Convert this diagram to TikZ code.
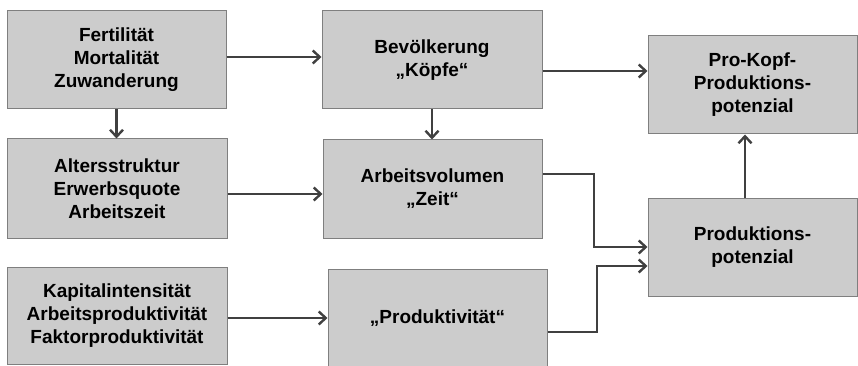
\documentclass[tikz,border=0pt]{standalone}
\usepackage{fontspec}
\setmainfont{Liberation Sans}
\usetikzlibrary{arrows.meta}
\definecolor{boxfill}{HTML}{CCCCCC}
\definecolor{boxline}{HTML}{7F7F7F}
\definecolor{arrowc}{HTML}{404040}
\begin{document}
\begin{tikzpicture}[x=1pt,y=-1pt,
  box/.style={draw=boxline, fill=boxfill, line width=1pt, align=center, inner sep=0pt,
    font=\fontsize{19}{23}\selectfont\bfseries, text=black},
  conn/.style={draw=arrowc, line width=2.4pt, -{Straight Barb[length=7pt,width=13pt,line width=2.4pt]}}]
\useasboundingbox (0,0) rectangle (858,366);
\node[box, minimum width=219pt, minimum height=98pt] (A) at (116.5,60) {Fertilität\\Mortalität\\Zuwanderung};
\node[box, minimum width=220pt, minimum height=99pt] (B) at (117,188.5) {Altersstruktur\\Erwerbsquote\\Arbeitszeit};
\node[box, minimum width=220pt, minimum height=97pt] (C) at (117,315.5) {Kapitalintensität\\Arbeitsproduktivität\\Faktorproduktivität};
\node[box, minimum width=220pt, minimum height=98pt] (D) at (432,60) {Bevölkerung\\„Köpfe“};
\node[box, minimum width=219pt, minimum height=98pt] (E) at (432.5,189) {Arbeitsvolumen\\„Zeit“};
\node[box, minimum width=219pt, minimum height=98pt] (F) at (437.5,318) {„Produktivität“};
\node[box, minimum width=209pt, minimum height=98pt] (G) at (752.5,85) {Pro-Kopf-\\Produktions-\\potenzial};
\node[box, minimum width=209pt, minimum height=98pt] (H) at (752.5,247) {Produktions-\\potenzial};
\draw[conn] ([yshift=3pt]A.east) -- ([yshift=3pt]A.east -| D.west);
\draw[conn] (A.south) -- (A.south |- B.north);
\draw[conn] (D.south) -- (D.south |- E.north);
\draw[conn] ([yshift=-5.5pt]B.east) -- ([yshift=-5.5pt]B.east -| E.west);
\draw[conn] (F.west -| C.east) -- (F.west);
\draw[conn] ([yshift=-11pt]D.east) -- ([yshift=-11pt]D.east -| G.west);
\draw[conn] ([yshift=15pt]E.east) -| (594,247) -- (H.west);
\draw[conn] ([yshift=-14pt]F.east) -| (597,266) -- ([yshift=-19pt]H.west);
\draw[conn] ([xshift=-7.5pt]H.north) -- ([xshift=-7.5pt]G.south);
\end{tikzpicture}
\end{document}
